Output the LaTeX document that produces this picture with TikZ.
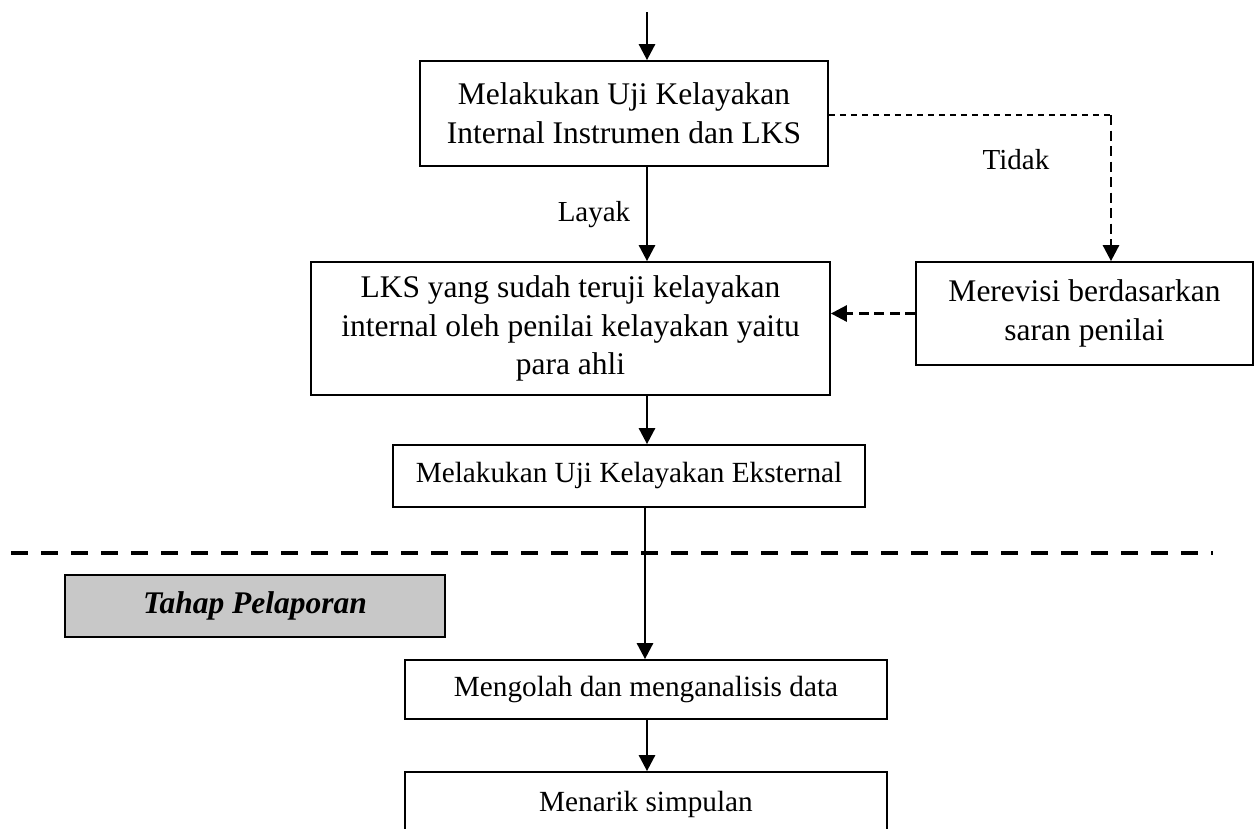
\documentclass[tikz,border=0pt]{standalone}
\usepackage{fontspec}
\setmainfont{Liberation Serif}
\usetikzlibrary{arrows.meta}
\definecolor{phasegray}{RGB}{200,200,200}
\tikzset{
  boxbig/.style={draw=black, line width=0.7pt, align=center, inner sep=0pt,
    font=\fontsize{12.6}{15.5}\selectfont},
  boxsmall/.style={draw=black, line width=0.7pt, align=center, inner sep=0pt,
    font=\fontsize{11.7}{14}\selectfont},
  phasebox/.style={draw=black, line width=0.7pt, fill=phasegray, align=center, inner sep=0pt,
    font=\fontsize{12.6}{15}\selectfont\bfseries\itshape},
  lbl/.style={font=\fontsize{11.6}{13}\selectfont, inner sep=0pt},
  arr/.style={line width=1.1pt, -{Triangle[width=6.4pt,length=6.4pt]}},
  dasharr/.style={line width=1.1pt, dash pattern=on 4pt off 2.2pt, -{Triangle[width=6.4pt,length=6.4pt]}},
  thindash/.style={line width=0.6pt, dash pattern=on 2.6pt off 1.8pt},
  sepline/.style={line width=1.7pt, dash pattern=on 6.8pt off 5.2pt},
}
\begin{document}
\begin{tikzpicture}[x=0.4pt, y=-0.4pt]
\useasboundingbox (0,0) rectangle (1255,828);

\coordinate (top) at (647,12);
\node[boxbig, minimum width=163.2pt, minimum height=42pt] (b1) at (624,113.5)
  {Melakukan Uji Kelayakan\\Internal Instrumen dan LKS};
\node[boxbig, minimum width=207.6pt, minimum height=53.2pt] (b2) at (570.5,328.5)
  {LKS yang sudah teruji kelayakan\\internal oleh penilai kelayakan yaitu\\para ahli};
\node[boxbig, minimum width=134.8pt, minimum height=41.2pt] (b3) at (1084.5,313.5)
  {Merevisi berdasarkan\\saran penilai};
\node[boxsmall, minimum width=188.8pt, minimum height=24.8pt] (b4) at (629,476)
  {Melakukan Uji Kelayakan Eksternal};
\node[phasebox, minimum width=152pt, minimum height=24.8pt] (ph) at (255,606)
  {Tahap Pelaporan};
\node[boxsmall, minimum width=192.8pt, minimum height=23.6pt] (b5) at (646,689.5)
  {Mengolah dan menganalisis data};
\node[boxsmall, minimum width=192.8pt, minimum height=25.6pt] (b6) at (646,804)
  {Menarik simpulan};

\node[lbl] (layak) at (594,215) {Layak};
\node[lbl] (tidak) at (1016,160) {Tidak};

\coordinate (sepL) at (11,553);
\coordinate (sepR) at (1213,553);
\coordinate (corner) at (1111,115);
\coordinate (ax) at (647,0);
\coordinate (bx) at (645,0);

\draw[arr] (top) -- (top |- b1.north);
\draw[arr] (b1.south -| ax) -- (b2.north -| ax);
\draw[thindash] (b1.east |- corner) -- (corner);
\draw[dasharr] (corner) -- (corner |- b3.north);
\draw[dasharr] (b3.west) -- (b3.west -| b2.east);
\draw[arr] (b2.south -| ax) -- (b4.north -| ax);
\draw[arr] (b4.south -| bx) -- (b5.north -| bx);
\draw[arr] (b5.south -| ax) -- (b6.north -| ax);
\draw[sepline] (sepL) -- (sepR);
\end{tikzpicture}
\end{document}
